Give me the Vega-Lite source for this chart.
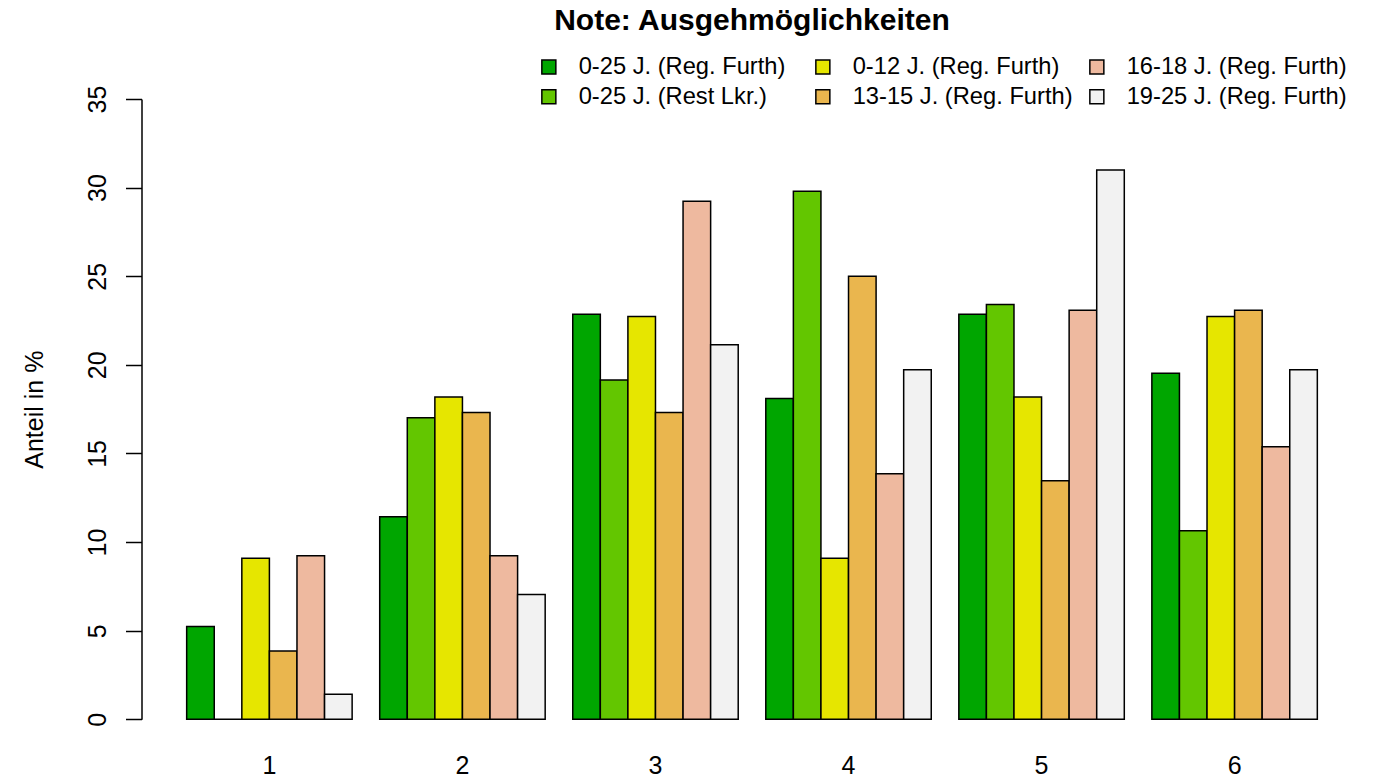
{
  "$schema": "https://vega.github.io/schema/vega-lite/v6.json",
  "width": 1221,
  "height": 620.3,
  "autosize": {"type": "none"},
  "padding": {"left": 141.5, "top": 99, "right": 16.5, "bottom": 59.7},
  "background": "white",
  "config": {"font": "Liberation Sans", "view": {"stroke": null}},
  "title": {"text": "Note: Ausgehmöglichkeiten", "fontSize": 30, "fontWeight": "bold", "anchor": "middle", "frame": "group", "baseline": "alphabetic", "offset": -5, "color": "black", "font": "Liberation Sans"},
  "data": {"values": [
    {"group": "1", "series": "0-25 J. (Reg. Furth)", "value": 5.24},
    {"group": "1", "series": "0-25 J. (Rest Lkr.)", "value": 0},
    {"group": "1", "series": "0-12 J. (Reg. Furth)", "value": 9.09},
    {"group": "1", "series": "13-15 J. (Reg. Furth)", "value": 3.85},
    {"group": "1", "series": "16-18 J. (Reg. Furth)", "value": 9.23},
    {"group": "1", "series": "19-25 J. (Reg. Furth)", "value": 1.41},
    {"group": "2", "series": "0-25 J. (Reg. Furth)", "value": 11.43},
    {"group": "2", "series": "0-25 J. (Rest Lkr.)", "value": 17.02},
    {"group": "2", "series": "0-12 J. (Reg. Furth)", "value": 18.18},
    {"group": "2", "series": "13-15 J. (Reg. Furth)", "value": 17.31},
    {"group": "2", "series": "16-18 J. (Reg. Furth)", "value": 9.23},
    {"group": "2", "series": "19-25 J. (Reg. Furth)", "value": 7.04},
    {"group": "3", "series": "0-25 J. (Reg. Furth)", "value": 22.86},
    {"group": "3", "series": "0-25 J. (Rest Lkr.)", "value": 19.15},
    {"group": "3", "series": "0-12 J. (Reg. Furth)", "value": 22.73},
    {"group": "3", "series": "13-15 J. (Reg. Furth)", "value": 17.31},
    {"group": "3", "series": "16-18 J. (Reg. Furth)", "value": 29.23},
    {"group": "3", "series": "19-25 J. (Reg. Furth)", "value": 21.13},
    {"group": "4", "series": "0-25 J. (Reg. Furth)", "value": 18.10},
    {"group": "4", "series": "0-25 J. (Rest Lkr.)", "value": 29.79},
    {"group": "4", "series": "0-12 J. (Reg. Furth)", "value": 9.09},
    {"group": "4", "series": "13-15 J. (Reg. Furth)", "value": 25.0},
    {"group": "4", "series": "16-18 J. (Reg. Furth)", "value": 13.85},
    {"group": "4", "series": "19-25 J. (Reg. Furth)", "value": 19.72},
    {"group": "5", "series": "0-25 J. (Reg. Furth)", "value": 22.86},
    {"group": "5", "series": "0-25 J. (Rest Lkr.)", "value": 23.40},
    {"group": "5", "series": "0-12 J. (Reg. Furth)", "value": 18.18},
    {"group": "5", "series": "13-15 J. (Reg. Furth)", "value": 13.46},
    {"group": "5", "series": "16-18 J. (Reg. Furth)", "value": 23.08},
    {"group": "5", "series": "19-25 J. (Reg. Furth)", "value": 30.99},
    {"group": "6", "series": "0-25 J. (Reg. Furth)", "value": 19.52},
    {"group": "6", "series": "0-25 J. (Rest Lkr.)", "value": 10.64},
    {"group": "6", "series": "0-12 J. (Reg. Furth)", "value": 22.73},
    {"group": "6", "series": "13-15 J. (Reg. Furth)", "value": 23.08},
    {"group": "6", "series": "16-18 J. (Reg. Furth)", "value": 15.38},
    {"group": "6", "series": "19-25 J. (Reg. Furth)", "value": 19.72}
  ]},
  "mark": {"type": "bar", "stroke": "black", "strokeWidth": 1.5},
  "encoding": {
    "x": {
      "field": "group", "type": "nominal",
      "scale": {"paddingInner": 0.142857, "paddingOuter": 0.234},
      "axis": {"title": null, "labelAngle": 0, "domain": false, "ticks": false, "labelFontSize": 25, "labelPadding": 34, "labelColor": "black", "labelFont": "Liberation Sans"}
    },
    "xOffset": {
      "field": "series", "type": "nominal",
      "scale": {"domain": ["0-25 J. (Reg. Furth)", "0-25 J. (Rest Lkr.)", "0-12 J. (Reg. Furth)", "13-15 J. (Reg. Furth)", "16-18 J. (Reg. Furth)", "19-25 J. (Reg. Furth)"], "paddingInner": 0, "paddingOuter": 0}
    },
    "y": {
      "field": "value", "type": "quantitative",
      "scale": {"domain": [0, 35], "nice": false},
      "axis": {"title": "Anteil in %", "values": [0, 5, 10, 15, 20, 25, 30, 35], "grid": false, "labelAngle": -90, "labelAlign": "center", "labelBaseline": "alphabetic", "tickSize": 16, "tickWidth": 1.5, "tickColor": "black", "domainColor": "black", "domainWidth": 1.5, "labelPadding": 20, "labelFontSize": 25, "labelColor": "black", "titleFontSize": 25, "titleFontWeight": "normal", "titleColor": "black", "titlePadding": 38, "labelFont": "Liberation Sans", "titleFont": "Liberation Sans"}
    },
    "color": {
      "field": "series", "type": "nominal",
      "scale": {
        "domain": ["0-25 J. (Reg. Furth)", "0-25 J. (Rest Lkr.)", "0-12 J. (Reg. Furth)", "13-15 J. (Reg. Furth)", "16-18 J. (Reg. Furth)", "19-25 J. (Reg. Furth)"],
        "range": ["#00A600", "#63C600", "#E6E600", "#EAB64E", "#EEB99F", "#F2F2F2"]
      },
      "legend": {"orient": "none", "legendX": 395.5, "legendY": -44, "direction": "vertical", "columns": 3, "title": null, "symbolType": "square", "symbolSize": 196, "symbolStrokeColor": "black", "symbolStrokeWidth": 1.5, "symbolOpacity": 1, "labelFontSize": 23.7, "labelOffset": 18, "columnPadding": 12, "rowPadding": 5, "gridAlign": "all", "labelLimit": 400, "padding": 0, "labelColor": "black", "labelFont": "Liberation Sans"}
    }
  }
}
